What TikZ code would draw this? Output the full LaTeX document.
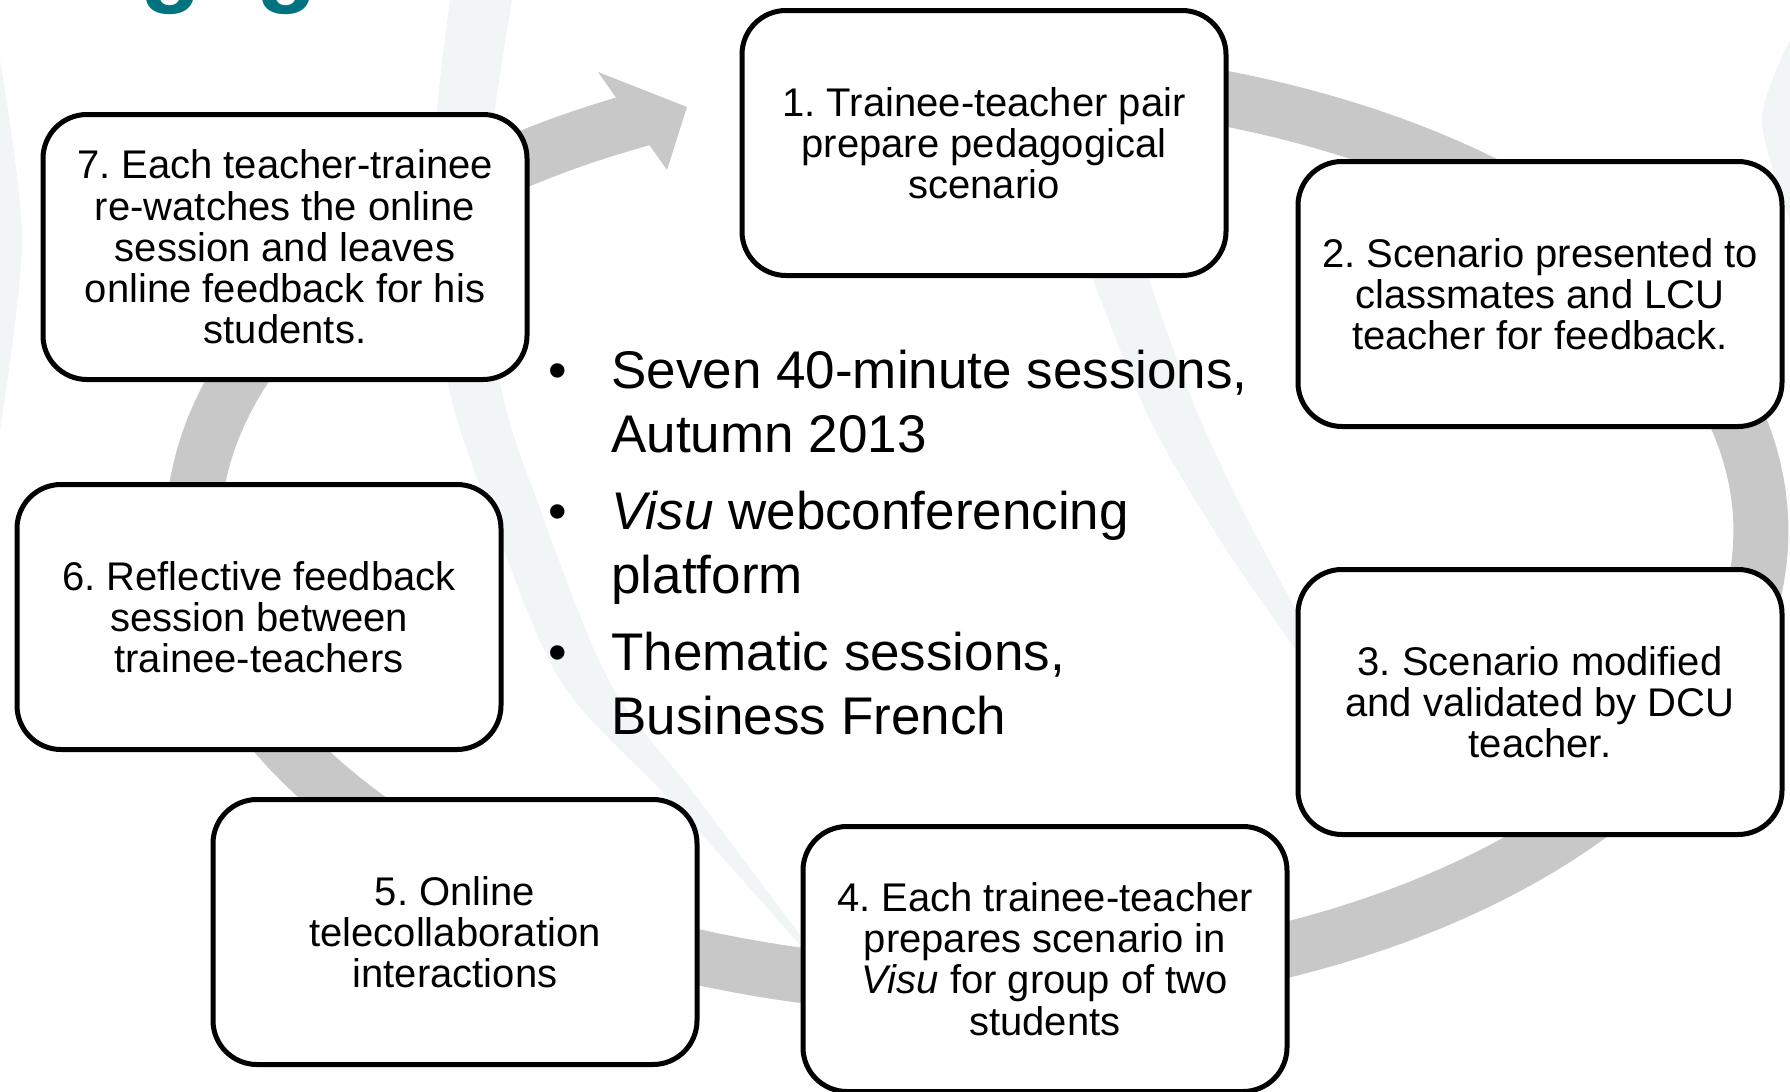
\documentclass[tikz,border=0pt]{standalone}
\usepackage{fontspec}
\setmainfont{Liberation Sans}
\frenchspacing
\definecolor{ringgray}{RGB}{200,200,200}
\definecolor{pale}{RGB}{241,245,246}
\definecolor{titleteal}{RGB}{0,114,128}
\tikzset{
  stepbox/.style={draw=black, line width=2.5pt, fill=white, rounded corners=22pt,
    minimum width=242pt, minimum height=132.5pt, align=center, inner sep=0pt,
    font=\fontsize{20pt}{20.6pt}\selectfont},
  bullettext/.style={anchor=base west, inner sep=0pt, font=\fontsize{26.5pt}{32pt}\selectfont},
  bulletdot/.style={anchor=base, inner sep=0pt, font=\fontsize{26.5pt}{32pt}\selectfont},
  ringband/.style={draw=ringgray, line width=27.5pt},
  swoosh/.style={fill=pale},
  titlefrag/.style={anchor=base west, inner sep=0pt, text=titleteal,
    font=\fontsize{50pt}{50pt}\selectfont\bfseries}
}
\begin{document}
\begin{tikzpicture}[x=0.5pt,y=-0.5pt]
\useasboundingbox (0,0) rectangle (1790,1092);
\fill[white] (0,0) rectangle (1790,1092);
% faint background swooshes
\fill[swoosh] plot[smooth] coordinates {(450,0) (430,200) (448,383) (492,517) (562,683) (680,810) (800,945)}
  -- plot[smooth] coordinates {(800,935) (695,795) (610,683) (543,517) (500,383) (485,200) (512,0)} -- cycle;
\fill[swoosh] plot[smooth] coordinates {(1092,277) (1150,420) (1220,540) (1296,650)}
  -- plot[smooth] coordinates {(1296,610) (1240,505) (1192,400) (1148,277)} -- cycle;
\fill[swoosh] plot[smooth] coordinates {(0,60) (22,240) (0,430)} -- cycle;
\fill[swoosh] plot[smooth] coordinates {(1790,40) (1762,120) (1790,220)} -- cycle;
% title fragments
\node[titlefrag] (g1) at (140,-6) {g};
\node[titlefrag] (g2) at (256,-6) {g};
% cycle ring with arrow head
\draw[ringband] plot[domain=-100:245, samples=200, variable=\t] ({977+784*cos(\t)}, {531+456*sin(\t)});
\coordinate (hA) at (598,72);
\coordinate (hT) at (687,107);
\coordinate (hB) at (667,170);
\fill[ringgray] (hA) -- (hT) -- (hB) -- cycle;
% step boxes
\node[stepbox] (s1) at (984,143) {1. Trainee-teacher pair\\prepare pedagogical\\scenario};
\node[stepbox] (s2) at (1540,294) {2. Scenario presented to\\classmates and LCU\\teacher for feedback.};
\node[stepbox] (s3) at (1540,702) {3. Scenario modified\\and validated by DCU\\teacher.};
\node[stepbox] (s4) at (1045,959) {4. Each trainee-teacher\\prepares scenario in\\\textit{Visu} for group of two\\students};
\node[stepbox] (s5) at (455,932) {5. Online\\telecollaboration\\interactions};
\node[stepbox] (s6) at (259,617) {6. Reflective feedback\\session between\\trainee-teachers};
\node[stepbox] (s7) at (285,247) {7. Each teacher-trainee\\re-watches the online\\session and leaves\\online feedback for his\\students.};
% bullets
\node[bulletdot] (d1) at (558,388) {\textbullet};
\node[bullettext] (l1a) at (611,388) {Seven 40-minute sessions,};
\node[bullettext] (l1b) at (611,452) {Autumn 2013};
\node[bulletdot] (d2) at (558,529) {\textbullet};
\node[bullettext] (l2a) at (611,529) {\textit{Visu} webconferencing};
\node[bullettext] (l2b) at (611,593) {platform};
\node[bulletdot] (d3) at (558,670) {\textbullet};
\node[bullettext] (l3a) at (611,670) {Thematic sessions,};
\node[bullettext] (l3b) at (611,734) {Business French};
\end{tikzpicture}
\end{document}
